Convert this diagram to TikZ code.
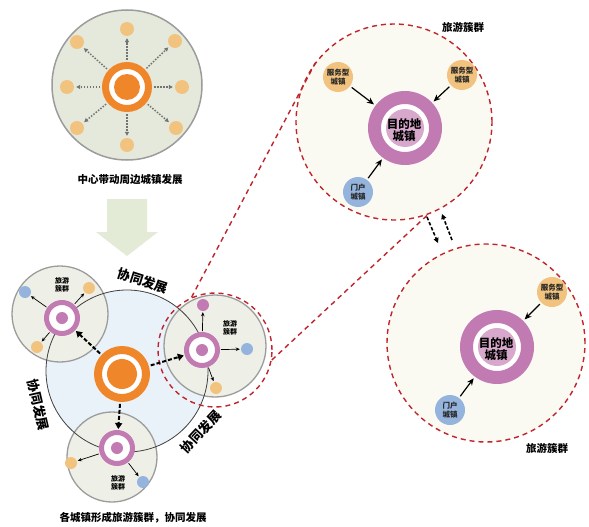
\documentclass[tikz,border=0pt]{standalone}
\usepackage{fontspec}
\newfontfamily\cjk{Noto Sans CJK SC}
\usetikzlibrary{arrows.meta}
\definecolor{orangeC}{HTML}{F0862A}
\definecolor{dotO}{HTML}{F2C37E}
\definecolor{pinkC}{HTML}{C27AB3}
\definecolor{innerP}{HTML}{D7A8CB}
\definecolor{blueD}{HTML}{94B3DD}
\definecolor{greenF}{HTML}{E4E9DB}
\definecolor{smallF}{HTML}{EEF0E7}
\definecolor{blueF}{HTML}{EAF2F9}
\definecolor{redD}{HTML}{C0242C}
\definecolor{arrowG}{HTML}{E3EAD5}
\definecolor{creamF}{HTML}{FAFAF3}
\definecolor{grayL}{HTML}{9C9C9C}
\begin{document}
\begin{tikzpicture}[x=1pt,y=-1pt,font=\cjk\bfseries,
  dotnode/.style={circle,inner sep=0pt,minimum size=#1},
  grayarr/.style={draw=gray!90!black,line width=1.5pt,dash pattern=on 1.5pt off 1.5pt,-{Triangle[length=4pt,width=4pt]},shorten <=2pt,shorten >=2pt},
  thinarr/.style={draw=black,line width=0.7pt,-{Stealth[length=4pt,width=3.5pt]},shorten <=1pt,shorten >=1pt},
  bigarr/.style={draw=black,line width=1.2pt,-{Stealth[length=7pt,width=6pt]},shorten <=2pt,shorten >=2pt},
  thickdash/.style={draw=black,line width=2pt,dash pattern=on 4pt off 2pt,-{Triangle[length=6pt,width=7pt]},shorten <=2pt,shorten >=1pt},
  reddash/.style={draw=redD,line width=1.4pt,dash pattern=on 5pt off 4pt},
  smalltxt/.style={font=\cjk\bfseries\fontsize{7}{8}\selectfont,align=center,inner sep=0pt},
  dottxt/.style={font=\cjk\bfseries\fontsize{7.5}{8.5}\selectfont,align=center,text=black!85},
  captxt/.style={font=\cjk\bfseries\fontsize{10.5}{12}\selectfont},
  xtxt/.style={font=\cjk\bfseries\fontsize{13}{14}\selectfont},
  cluster/.style={font=\cjk\bfseries\fontsize{10.5}{12}\selectfont}
]
\useasboundingbox (0,0) rectangle (589,527);
\fill[white] (0,0) rectangle (589,527);

% ---------------- top diagram ----------------
\node[circle,draw=grayL,fill=greenF,line width=1.5pt,minimum size=150pt,inner sep=0pt] (topc) at (127,85) {};
\node[circle,draw=orangeC,fill=white,line width=7pt,minimum size=43pt,inner sep=0pt] (oring) at (127,87) {};
\node[circle,fill=orangeC,minimum size=26pt,inner sep=0pt] (odisk) at (127,87) {};
\foreach \n/\x/\y in {d1/127/29,d2/175/41,d3/182/87,d4/176/128,d5/127/145,d6/77/128,d7/67/87,d8/77/42}{
  \node[dotnode=14pt,fill=dotO] (\n) at (\x,\y) {};
  \draw[grayarr] (oring) -- (\n);
}
\node[captxt] (cap1) at (130,180) {中心带动周边城镇发展};

% big arrow
\fill[arrowG] (107,199) -- (147,199) -- (147,232) -- (158,232) -- (127,256) -- (96,232) -- (107,232) -- cycle;

% ---------------- bottom-left diagram ----------------
\node[circle,fill=blueF,minimum size=162pt,inner sep=0pt] (bigc) at (127,371) {};
\node[circle,draw=grayL,fill=smallF,line width=1.3pt,minimum size=96pt,inner sep=0pt] (ulc) at (60,314) {};
\node[circle,draw=grayL,fill=smallF,line width=1.3pt,minimum size=102pt,inner sep=0pt] (rc) at (215,346) {};
\node[circle,draw=grayL,fill=smallF,line width=1.3pt,minimum size=90pt,inner sep=0pt] (bc) at (112,457) {};
\draw[black!75,line width=0.8pt] (bigc.center) circle (81pt);
\node[circle,draw=redD,line width=1.4pt,dash pattern=on 5pt off 4pt,minimum size=114pt,inner sep=0pt] (rcd) at (215,350) {};

% centre orange ring
\node[circle,draw=orangeC,fill=white,line width=8pt,minimum size=48pt,inner sep=0pt] (bring) at (122,374) {};
\node[circle,fill=orangeC,minimum size=30pt,inner sep=0pt] (bdisk) at (122,374) {};

% pink rings
\foreach \n/\x/\y in {p1/62/318,p2/202/350,p3/117/448}{
  \node[circle,draw=pinkC,fill=white,line width=5pt,minimum size=31pt,inner sep=0pt] (\n) at (\x,\y) {};
  \node[circle,fill=pinkC,minimum size=12pt,inner sep=0pt] (\n c) at (\x,\y) {};
}
% cluster dots
\node[dotnode=12pt,fill=blueD] (u1) at (25,292) {};
\node[dotnode=12pt,fill=dotO] (u2) at (89,288) {};
\node[dotnode=12pt,fill=dotO] (u3) at (37,347) {};
\node[dotnode=12pt,fill=pinkC] (r1) at (203,305) {};
\node[dotnode=12pt,fill=blueD] (r2) at (247,349) {};
\node[dotnode=12pt,fill=dotO] (r3) at (216,388) {};
\node[dotnode=12pt,fill=dotO] (b1) at (71,463) {};
\node[dotnode=12pt,fill=blueD] (b2) at (143,482) {};
\draw[thinarr] (p1) -- (u1);
\draw[thinarr] (p1) -- (u2);
\draw[thinarr] (p1) -- (u3);
\draw[thinarr] (p2) -- (r1);
\draw[thinarr] (p2) -- (r2);
\draw[thinarr] (p2) -- (r3);
\draw[thinarr] (p3) -- (b1);
\draw[thinarr] (p3) -- (b2);

\node[smalltxt] (t1) at (62,285) {旅游\\簇群};
\node[smalltxt] (t2) at (230,328) {旅游\\簇群};
\node[smalltxt] (t3) at (118,483) {旅游\\簇群};

% centre dashed arrows
\draw[thickdash] (bring) -- (p1);
\draw[thickdash] (bring) -- (p2);
\draw[thickdash] (bring) -- (p3);

% labels
\node[xtxt,rotate=-18] (x1) at (143,281) {协同发展};
\node[xtxt,rotate=-77] (x2) at (38,405) {协同发展};
\node[xtxt,rotate=47] (x3) at (201,432) {协同发展};
\node[captxt] (cap2) at (133,518) {各城镇形成旅游簇群，协同发展};

% ---------------- right diagrams ----------------
\node[circle,draw=redD,fill=creamF,line width=1.4pt,dash pattern=on 5pt off 4pt,minimum size=196pt,inner sep=0pt] (ca) at (394,122) {};
\node[circle,draw=redD,fill=creamF,line width=1.4pt,dash pattern=on 5pt off 4pt,minimum size=198pt,inner sep=0pt] (cb) at (486,343) {};

% tangents
\draw[reddash] (rcd.114) -- (ca.142);
\draw[reddash] (rcd.-10) -- (ca.-70);

% cluster A
\node[circle,draw=pinkC,fill=white,line width=13pt,minimum size=61pt,inner sep=0pt] (pa) at (405,128) {};
\node[circle,fill=innerP,minimum size=38pt,inner sep=0pt] (pad) at (405,128) {};
\node[font=\cjk\bfseries\fontsize{11.5}{12.5}\selectfont,align=center,inner sep=0pt] (pat) at (404,130) {目的地\\城镇};
\node[dotnode=30pt,fill=dotO,dottxt] (sa1) at (338,77) {服务型\\城镇};
\node[dotnode=30pt,fill=dotO,dottxt] (sa2) at (462,75) {服务型\\城镇};
\node[dotnode=30pt,fill=blueD,dottxt] (ga) at (358,192) {门户\\城镇};
\draw[bigarr] (sa1) -- (pa);
\draw[bigarr] (sa2) -- (pa);
\draw[bigarr] (ga) -- (pa);
\node[cluster] (la) at (463,27) {旅游簇群};

% cluster B
\node[circle,draw=pinkC,fill=white,line width=13pt,minimum size=61pt,inner sep=0pt] (pb) at (497,347) {};
\node[circle,fill=innerP,minimum size=38pt,inner sep=0pt] (pbd) at (497,347) {};
\node[font=\cjk\bfseries\fontsize{11.5}{12.5}\selectfont,align=center,inner sep=0pt] (pbt) at (496,349) {目的地\\城镇};
\node[dotnode=30pt,fill=dotO,dottxt] (sb1) at (552,292) {服务型\\城镇};
\node[dotnode=30pt,fill=blueD,dottxt] (gb) at (450,410) {门户\\城镇};
\draw[bigarr] (sb1) -- (pb);
\draw[bigarr] (gb) -- (pb);
\node[cluster] (lb) at (547,448) {旅游簇群};

% double arrows between clusters
\coordinate (da1) at (427,217);
\coordinate (da2) at (438,243);
\coordinate (db1) at (452,240);
\coordinate (db2) at (442,214);
\draw[black,line width=1.6pt,dash pattern=on 3.5pt off 2pt,-{Triangle[length=5pt,width=5pt]}] (da1) -- (da2);
\draw[black,line width=1.6pt,dash pattern=on 3.5pt off 2pt,-{Triangle[length=5pt,width=5pt]}] (db1) -- (db2);
\end{tikzpicture}
\end{document}
